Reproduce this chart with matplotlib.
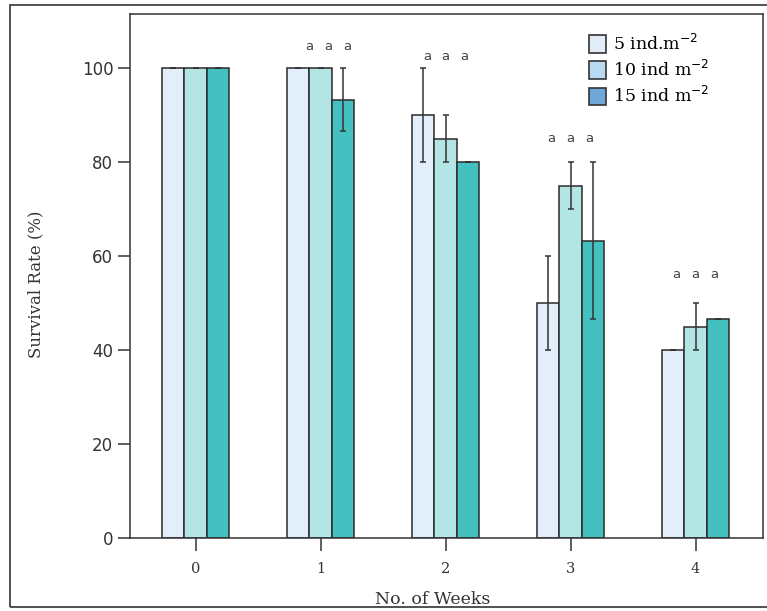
import matplotlib
matplotlib.use('Agg')
import matplotlib.pyplot as plt
import numpy as np
from matplotlib.patches import Patch, Rectangle

weeks = ['0', '1', '2', '3', '4']
labels = ['5 ind.m$^{-2}$', '10 ind m$^{-2}$', '15 ind m$^{-2}$']
survival_5 = [100, 100, 90, 50, 40]
survival_10 = [100, 100, 85, 75, 45]
survival_15 = [100, 93.3, 80, 63.3, 46.7]
err_5 = [0, 0, 10, 10, 0]
err_10 = [0, 0, 5, 5, 5]
err_15 = [0, 6.7, 0, 16.7, 0]
letter_y = [None, 104.5, 102.5, 85, 56]
letter_shift = [0, 0.06, 0, 0, 0]

bar_colors = ['#e2eefa', '#b3e5e5', '#45c0c0']
legend_colors = ['#e0ecf8', '#b8d9f2', '#6fa7d8']

fig = plt.figure(figsize=(7.67, 6.11), dpi=100)
ax = fig.add_axes([130 / 767, 73 / 611, 633 / 767, 524 / 611])

x = np.arange(len(weeks))
w = 0.18
series = [(survival_5, err_5), (survival_10, err_10), (survival_15, err_15)]
for i, (vals, errs) in enumerate(series):
    ax.bar(x + (i - 1) * w, vals, w, yerr=errs, color=bar_colors[i],
           edgecolor='#2b2b2b', linewidth=1.1, zorder=2,
           error_kw=dict(ecolor='#333333', elinewidth=1.1, capsize=2.5, capthick=1.1))

for k, yy in enumerate(letter_y):
    if yy is None:
        continue
    for j in range(3):
        ax.text(k + letter_shift[k] + (j - 1) * 0.15, yy, 'a', ha='center', va='center',
                fontsize=9.5, color='#444444')

ax.set_xlim(-0.525, 4.54)
ax.set_ylim(0, 111.5)
ax.set_xticks(x)
ax.set_xticklabels(weeks, family='DejaVu Serif', fontsize=10.5, color='#333333')
ax.set_yticks([0, 20, 40, 60, 80, 100])
ax.set_yticklabels(['0', '20', '40', '60', '80', '100'], fontsize=12, color='#333333')
ax.tick_params(axis='y', length=9, width=1.1, color='#333333', pad=3)
ax.tick_params(axis='x', length=9, width=1.1, color='#333333', pad=8)
for s in ax.spines.values():
    s.set_color('#333333')
    s.set_linewidth(1.1)

fig.text(433 / 767, 1 - 600 / 611, 'No. of Weeks', ha='center', va='center',
         family='DejaVu Serif', fontsize=12.5, color='#333333')
fig.text(36 / 767, 1 - 284 / 611, 'Survival Rate (%)', ha='center', va='center',
         rotation=90, family='DejaVu Serif', fontsize=12, color='#333333')

handles = [Patch(facecolor=c, edgecolor='#333333', linewidth=1.2) for c in legend_colors]
ax.legend(handles, labels, loc='upper left', bbox_to_anchor=(0.725, 0.962), frameon=False,
          prop={'family': 'DejaVu Serif', 'size': 12.5}, handlelength=1.0, handleheight=1.2,
          handletextpad=0.4, labelspacing=0.35, borderaxespad=0.0, borderpad=0.0)

# outer frame around the figure
fig.add_artist(Rectangle((10 / 767, 4 / 611), 1.0, 602 / 611, transform=fig.transFigure,
                         fill=False, edgecolor='#333333', linewidth=1.2, clip_on=False))

fig.savefig('out.png', dpi=100)
